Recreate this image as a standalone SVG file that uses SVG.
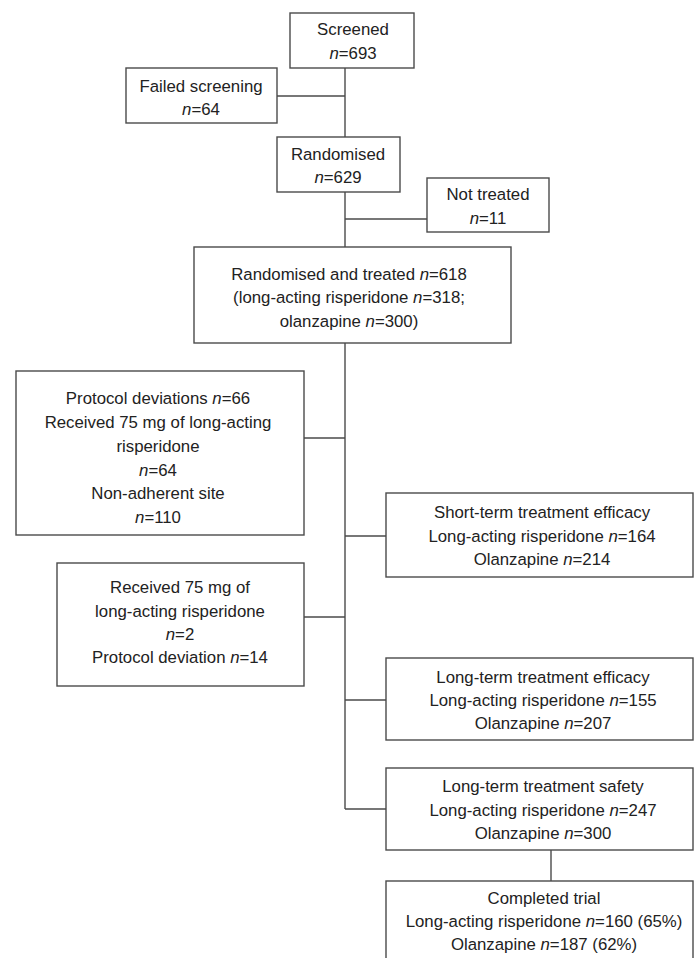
<svg xmlns="http://www.w3.org/2000/svg" width="694" height="958" viewBox="0 0 694 958">
<style>
rect.box { fill: #ffffff; stroke: #4a4a4a; stroke-width: 1.4; }
.conn line { stroke: #4a4a4a; stroke-width: 1.4; }
text { font-family: "Liberation Sans", Arial, sans-serif; font-size: 16.8px; fill: #222222; text-anchor: middle; }
.i { font-style: italic; }
</style>
<rect width="694" height="958" fill="#ffffff"/>
<g id="connectors" class="conn">
<line x1="345" y1="68" x2="345" y2="137"/>
<line x1="277" y1="96" x2="345" y2="96"/>
<line x1="345" y1="192" x2="345" y2="247"/>
<line x1="345" y1="219" x2="427" y2="219"/>
<line x1="345" y1="343" x2="345" y2="809"/>
<line x1="304" y1="438" x2="345" y2="438"/>
<line x1="345" y1="536" x2="386" y2="536"/>
<line x1="304" y1="617" x2="345" y2="617"/>
<line x1="345" y1="700" x2="386" y2="700"/>
<line x1="345" y1="809" x2="386" y2="809"/>
<line x1="551" y1="850" x2="551" y2="881"/>
</g>
<g id="screened">
<rect class="box" x="290" y="13" width="124" height="55"/>
<text x="353" y="35">Screened</text>
<text x="353" y="59"><tspan class="i">n</tspan>=693</text>
</g>
<g id="failed">
<rect class="box" x="126" y="68" width="151" height="55"/>
<text x="201" y="92">Failed screening</text>
<text x="201" y="115"><tspan class="i">n</tspan>=64</text>
</g>
<g id="randomised">
<rect class="box" x="277" y="137" width="123" height="55"/>
<text x="338" y="160">Randomised</text>
<text x="338" y="183"><tspan class="i">n</tspan>=629</text>
</g>
<g id="nottreated">
<rect class="box" x="427" y="178" width="122" height="54"/>
<text x="488" y="200">Not treated</text>
<text x="488" y="224"><tspan class="i">n</tspan>=11</text>
</g>
<g id="randtreated">
<rect class="box" x="194" y="247" width="317" height="96"/>
<text x="349" y="280">Randomised and treated <tspan class="i">n</tspan>=618</text>
<text x="349" y="303">(long-acting risperidone <tspan class="i">n</tspan>=318;</text>
<text x="349" y="327">olanzapine <tspan class="i">n</tspan>=300)</text>
</g>
<g id="protocol">
<rect class="box" x="16" y="371" width="288" height="164"/>
<text x="158" y="404">Protocol deviations <tspan class="i">n</tspan>=66</text>
<text x="158" y="428">Received 75 mg of long-acting</text>
<text x="158" y="452">risperidone</text>
<text x="158" y="476"><tspan class="i">n</tspan>=64</text>
<text x="158" y="499">Non-adherent site</text>
<text x="158" y="523"><tspan class="i">n</tspan>=110</text>
</g>
<g id="received">
<rect class="box" x="57" y="563" width="247" height="123"/>
<text x="180" y="593">Received 75 mg of</text>
<text x="180" y="617">long-acting risperidone</text>
<text x="180" y="640"><tspan class="i">n</tspan>=2</text>
<text x="180" y="663">Protocol deviation <tspan class="i">n</tspan>=14</text>
</g>
<g id="shortterm">
<rect class="box" x="386" y="493" width="307" height="84"/>
<text x="542" y="518">Short-term treatment efficacy</text>
<text x="542" y="542">Long-acting risperidone <tspan class="i">n</tspan>=164</text>
<text x="542" y="565">Olanzapine <tspan class="i">n</tspan>=214</text>
</g>
<g id="longefficacy">
<rect class="box" x="386" y="658" width="307" height="82"/>
<text x="543" y="683">Long-term treatment efficacy</text>
<text x="543" y="706">Long-acting risperidone <tspan class="i">n</tspan>=155</text>
<text x="543" y="729">Olanzapine <tspan class="i">n</tspan>=207</text>
</g>
<g id="longsafety">
<rect class="box" x="386" y="768" width="307" height="82"/>
<text x="543" y="792">Long-term treatment safety</text>
<text x="543" y="816">Long-acting risperidone <tspan class="i">n</tspan>=247</text>
<text x="543" y="839">Olanzapine <tspan class="i">n</tspan>=300</text>
</g>
<g id="completed">
<rect class="box" x="386" y="881" width="307" height="90"/>
<text x="544" y="904">Completed trial</text>
<text x="544" y="927">Long-acting risperidone <tspan class="i">n</tspan>=160 (65%)</text>
<text x="544" y="950">Olanzapine <tspan class="i">n</tspan>=187 (62%)</text>
</g>
</svg>
